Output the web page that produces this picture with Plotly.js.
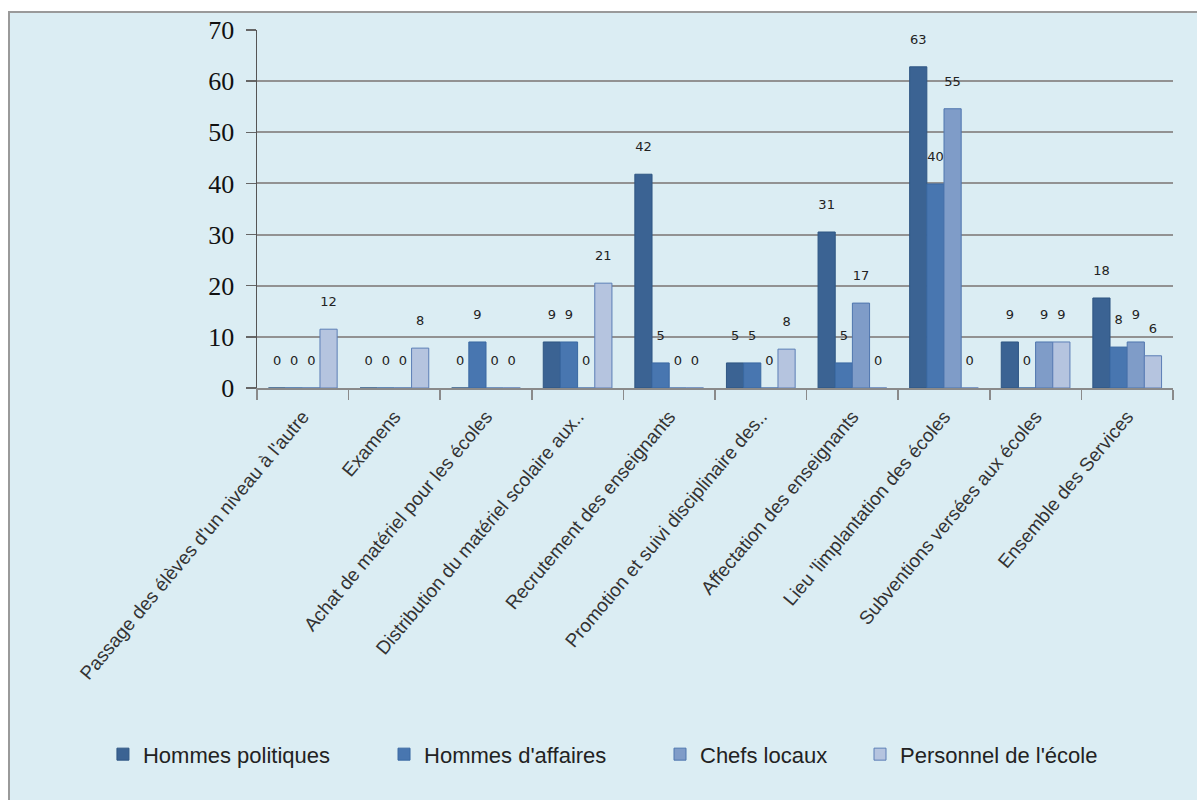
<!DOCTYPE html>
<html>
<head>
<meta charset="utf-8">
<script src="https://cdn.plot.ly/plotly-3.0.1.min.js"></script>
<style>
  html, body { margin: 0; padding: 0; background: #ffffff; width: 1197px; height: 800px; overflow: hidden; }
  #frame { position: absolute; left: 8px; top: 11px; width: 1189px; height: 789px;
           background: #DBEDF3; border-top: 2px solid #9a9a9a; border-left: 2px solid #9a9a9a; box-sizing: border-box; }
  #chart { position: absolute; left: 0; top: 0; width: 1187px; height: 787px; }
</style>
</head>
<body>
<div id="frame"><div id="chart"></div></div>
<script>
const categories = [
  "Passage des élèves d'un niveau à l'autre",
  "Examens",
  "Achat de matériel pour les écoles",
  "Distribution du matériel scolaire aux..",
  "Recrutement des enseignants",
  "Promotion et suivi disciplinaire des..",
  "Affectation des enseignants",
  "Lieu 'limplantation des écoles",
  "Subventions versées aux écoles",
  "Ensemble des Services"
];
const seriesNames = ["Hommes politiques", "Hommes d'affaires", "Chefs locaux", "Personnel de l'école"];
const hommesPolitiques = [0, 0, 0, 9, 41.8, 4.9, 30.5, 62.8, 9, 17.6];
const hommesAffaires   = [0, 0, 9, 9, 4.9, 4.9, 4.9, 39.9, 0, 8.0];
const chefsLocaux      = [0, 0, 0, 0, 0, 0, 16.6, 54.6, 9, 9];
const personnelEcole   = [11.5, 7.8, 0, 20.5, 0, 7.6, 0, 0, 9, 6.3];
const yTicks = [0, 10, 20, 30, 40, 50, 60, 70];

const seriesValues = [hommesPolitiques, hommesAffaires, chefsLocaux, personnelEcole];
const fills = ['#3B6393', '#4876B0', '#7F9CC8', '#B5C4DF'];
const edges = ['#2F5683', '#3A68A2', '#4F76AE', '#5C7EB6'];
const legendIds = ['legend', 'legend2', 'legend3', 'legend4'];
const legendX = [0.0783, 0.3151, 0.5476, 0.7161];

const traces = seriesValues.map((vals, i) => ({
  type: 'bar',
  name: seriesNames[i],
  legend: legendIds[i],
  x: categories,
  y: vals,
  marker: { color: fills[i], line: { color: edges[i], width: 1 } },
  texttemplate: '%{y:.0f}<br>\u00a0',
  textposition: 'outside',
  constraintext: 'none',
  cliponaxis: false,
  textfont: { family: 'DejaVu Sans, sans-serif', size: 13, color: '#222' },
  hoverinfo: 'x+y+name'
}));

const legendBase = {
  orientation: 'h',
  xref: 'container', yref: 'container',
  xanchor: 'left',
  y: 0.058, yanchor: 'middle',
  font: { family: 'Liberation Sans, Arial, sans-serif', size: 22, color: '#222' },
  bgcolor: 'rgba(0,0,0,0)'
};

const layout = {
  width: 1187, height: 787,
  paper_bgcolor: 'rgba(0,0,0,0)',
  plot_bgcolor: 'rgba(0,0,0,0)',
  margin: { l: 247, r: 24, t: 17, b: 412 },
  barmode: 'group',
  bargap: 0.25,
  bargroupgap: 0,
  showlegend: true,
  legend:  Object.assign({}, legendBase, { x: legendX[0] }),
  legend2: Object.assign({}, legendBase, { x: legendX[1] }),
  legend3: Object.assign({}, legendBase, { x: legendX[2] }),
  legend4: Object.assign({}, legendBase, { x: legendX[3] }),
  xaxis: {
    type: 'category',
    tickangle: -50,
    tickfont: { family: 'Liberation Sans, Arial, sans-serif', size: 19, color: '#333' },
    ticklabelstandoff: 8,
    showline: true, linecolor: '#8a8a8a', linewidth: 2,
    ticks: 'outside', tickson: 'boundaries', ticklen: 10, tickcolor: '#8a8a8a', tickwidth: 1.5,
    showgrid: false, zeroline: false, fixedrange: true
  },
  yaxis: {
    range: [0, 70],
    tickvals: yTicks,
    ticktext: yTicks.map(String),
    tickfont: { family: 'Liberation Serif, Times New Roman, serif', size: 26, color: '#111' },
    ticklabelstandoff: 6,
    showline: true, linecolor: '#555', linewidth: 1.5,
    ticks: 'outside', ticklen: 10, tickcolor: '#666', tickwidth: 1.5,
    showgrid: true, gridcolor: '#929292', gridwidth: 2,
    zeroline: false, fixedrange: true
  }
};

Plotly.newPlot('chart', traces, layout, { displayModeBar: false, staticPlot: true });
</script>
</body>
</html>
